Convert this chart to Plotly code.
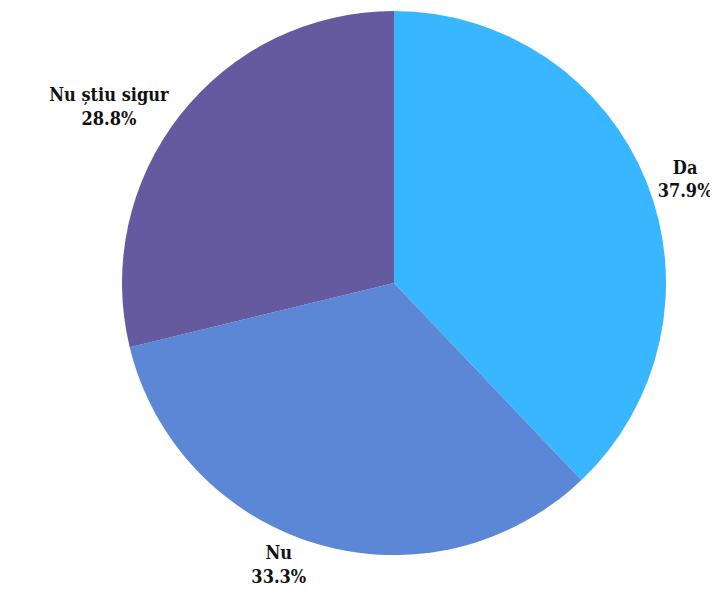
import plotly.graph_objects as go

labels = ["Da", "Nu", "Nu știu sigur"]
values = [37.9, 33.3, 28.8]
colors = ["#38B6FF", "#5C87D7", "#655AA0"]

fig = go.Figure(go.Pie(
    labels=labels,
    values=values,
    sort=False,
    direction="clockwise",
    rotation=0,
    marker=dict(colors=colors, line=dict(width=0)),
    textposition="outside",
    texttemplate="<b>%{label}</b><br><b>%{value:.1f}%</b>",
    textfont=dict(family="DejaVu Serif Condensed, DejaVu Serif", size=18, color="#111111"),
    showlegend=False,
    automargin=False,
    hole=0,
))
fig.update_layout(
    width=718, height=608,
    margin=dict(l=114, r=60, t=3, b=61),
    paper_bgcolor="white",
    plot_bgcolor="white",
)
fig.write_html("out.html")
